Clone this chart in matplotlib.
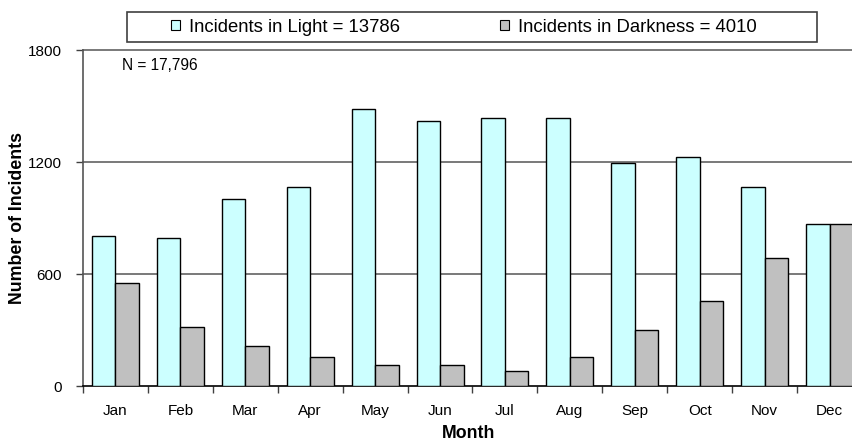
import matplotlib
matplotlib.use("Agg")
import matplotlib.pyplot as plt
from matplotlib.patches import Rectangle, Patch
import numpy as np

months = ["Jan", "Feb", "Mar", "Apr", "May", "Jun",
          "Jul", "Aug", "Sep", "Oct", "Nov", "Dec"]
light = [805, 793, 1000, 1064, 1484, 1421, 1434, 1434, 1193, 1225, 1066, 866]
dark = [552, 314, 216, 154, 111, 111, 82, 154, 300, 454, 686, 866]
light_total = 13786
dark_total = 4010
n_total = 17796
yticks = [0, 600, 1200, 1800]

plt.rcParams["font.family"] = ["Liberation Sans", "DejaVu Sans"]

W, H = 853, 445
fig = plt.figure(figsize=(W / 100, H / 100), dpi=100)
ax = fig.add_axes([83 / W, 1 - 386 / H, (862 - 83) / W, (386 - 50) / H])

x = np.arange(len(months))
bw = 0.362
ax.bar(x - bw / 2, light, bw, color="#CCFFFF", edgecolor="black", linewidth=1, zorder=3)
ax.bar(x + bw / 2, dark, bw, color="#C0C0C0", edgecolor="black", linewidth=1, zorder=3)

ax.set_xlim(-0.5, len(months) - 0.5)
ax.set_ylim(0, 1800)
ax.set_yticks(yticks)
ax.set_yticklabels([str(v) for v in yticks], fontsize=11)
ax.set_xticks(x)
ax.set_xticklabels(months, fontsize=11)
ax.set_xticks(np.arange(len(months) + 1) - 0.5, minor=True)
ax.tick_params(axis="x", which="major", length=0, pad=13)
ax.tick_params(axis="x", which="minor", length=5, width=1, color="#404040", direction="out")
ax.tick_params(axis="y", length=5, width=1, color="#404040", direction="out", pad=10)

for v in yticks[1:]:
    ax.axhline(v, color="#6E6E6E", linewidth=1.3, zorder=1, clip_on=False)

for s in ["top", "right"]:
    ax.spines[s].set_visible(False)
ax.spines["left"].set_color("#555555")
ax.spines["left"].set_linewidth(1.2)
ax.spines["bottom"].set_color("black")
ax.spines["bottom"].set_linewidth(1.2)

ax.set_xlabel("Month", fontsize=12.8, fontweight="bold")
ax.set_ylabel("Number of Incidents", fontsize=12.8, fontweight="bold")
ax.xaxis.set_label_coords((469 - 83) / 779, (386 - 425) / 336)
ax.yaxis.set_label_coords((26 - 83) / 779, 0.5)

ax.text(122 / W, 1 - 65 / H, f"N = {n_total:,}", transform=fig.transFigure,
        fontsize=11.2, va="center", ha="left")

# Legend frame and entries
fig.patches.append(Rectangle((127 / W, 1 - 42 / H), (817 - 127) / W, 30 / H,
                             transform=fig.transFigure, facecolor="white",
                             edgecolor="#404040", linewidth=1.2))
handles = [Patch(facecolor="#CCFFFF", edgecolor="black", linewidth=0.8),
           Patch(facecolor="#C0C0C0", edgecolor="black", linewidth=0.8)]
labels = [f"Incidents in Light = {light_total}", f"Incidents in Darkness = {dark_total}"]
fig.legend(handles, labels, loc="center", bbox_to_anchor=(464 / W, 1 - 27 / H),
           ncol=2, frameon=False, fontsize=13.3, handlelength=0.5, handleheight=0.5,
           handletextpad=0.5, columnspacing=5.4, borderpad=0)

fig.savefig("out.png", dpi=100)
